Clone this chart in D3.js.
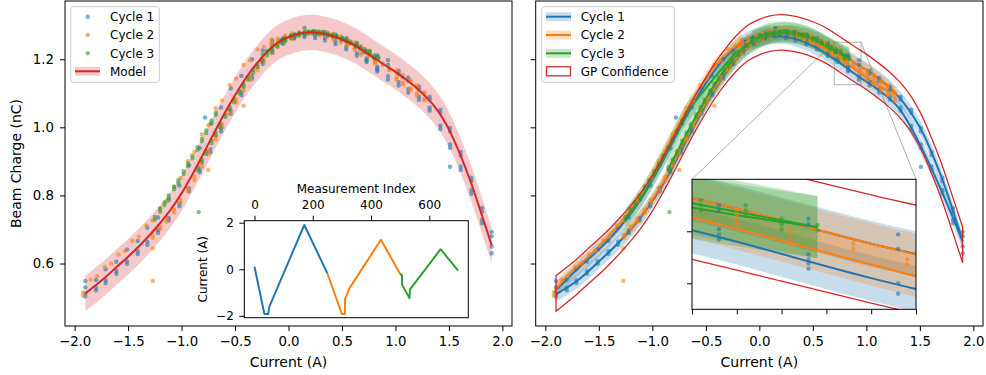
<!DOCTYPE html>
<html>
<head>
<meta charset="utf-8">
<script src="https://cdn.jsdelivr.net/npm/d3@7"></script>
<style>
  body { margin: 0; background: #fff; }
  svg { display: block; font-family: "DejaVu Sans", sans-serif; }
</style>
</head>
<body>
<div id="chart"></div>
<script>
// ---------- data ----------
const xTicks = [-2, -1.5, -1, -0.5, 0, 0.5, 1, 1.5, 2];
const yTicks = [0.6, 0.8, 1.0, 1.2];
const indexTicks = [0, 200, 400, 600];
const indexCurrentTicks = [-2, 0, 2];
const zoomXTicks = [0.70, 0.75, 0.80, 0.85, 0.90, 0.95];
const zoomYTicks = [1.15, 1.20];
const zoomCurrent = [0.70, 0.95];
const zoomCharge = [1.125, 1.25];

const cycleNames = ["Cycle 1", "Cycle 2", "Cycle 3"];

// model fit (mean and confidence edges)
const modelCurrent = [-1.9,-1.8,-1.7,-1.6,-1.5,-1.4,-1.3,-1.2,-1.1,-1.0,-0.9,-0.8,-0.7,-0.6,-0.5,-0.4,-0.3,-0.2,-0.1,0,
  0.1,0.2,0.3,0.4,0.5,0.6,0.7,0.8,0.9,1.0,1.1,1.2,1.3,1.4,1.5,1.6,1.7,1.8,1.9];
const modelCharge = [0.512,0.537,0.563,0.592,0.620,0.650,0.683,0.719,0.759,0.806,0.861,0.920,0.981,1.040,1.094,1.144,1.186,1.222,1.249,1.265,
  1.275,1.279,1.276,1.269,1.258,1.244,1.225,1.204,1.183,1.163,1.140,1.115,1.085,1.047,0.994,0.924,0.843,0.750,0.654];
const modelUpper = [0.564,0.589,0.615,0.644,0.672,0.702,0.735,0.771,0.811,0.858,0.913,0.972,1.033,1.092,1.146,1.196,1.238,1.274,1.301,1.317,
  1.327,1.331,1.328,1.321,1.310,1.296,1.277,1.256,1.235,1.215,1.192,1.167,1.137,1.099,1.046,0.976,0.895,0.802,0.706];
const modelLower = [0.460,0.485,0.511,0.540,0.568,0.598,0.631,0.667,0.707,0.754,0.809,0.868,0.929,0.988,1.042,1.092,1.134,1.170,1.197,1.213,
  1.223,1.227,1.224,1.217,1.206,1.192,1.173,1.152,1.131,1.111,1.088,1.063,1.033,0.995,0.942,0.872,0.791,0.698,0.602];

// measured charge: [current, charge, charge, ...] per set point
const cycle1Charge = [
  [0.05,1.272],[-0.05,1.262],[-0.15,1.255],[-0.24,1.226],[-0.34,1.200],[-0.44,1.151],[-0.54,1.114],[-0.63,1.058],[-0.73,1.010],
  [-0.78,1.029],[-0.83,0.939],[-0.93,0.889],[-1.02,0.829],[-1.12,0.786],[-1.22,0.735],[-1.32,0.705],[-1.41,0.666],[-1.51,0.641],
  [-1.61,0.605],[-1.71,0.583],[-1.80,0.552],[-1.90,0.549,0.530],
  [-1.90,0.503,0.512],[-1.80,0.521,0.529],[-1.71,0.543,0.551],[-1.61,0.570,0.578],[-1.51,0.599,0.607],[-1.41,0.628,0.636],
  [-1.32,0.655,0.664],[-1.22,0.690,0.698],[-1.12,0.726,0.734],[-1.02,0.768,0.777],[-0.93,0.812,0.821],[-0.83,0.868,0.877],
  [-0.73,0.927,0.936],[-0.63,0.988,0.997],[-0.54,1.040,1.049],[-0.44,1.094,1.103],[-0.34,1.143,1.152],[-0.24,1.186,1.194],
  [-0.15,1.218,1.226],[-0.05,1.245,1.252],[0.05,1.261,1.268],[0.15,1.272,1.279,1.292],[0.25,1.276,1.282],[0.34,1.274,1.280],
  [0.44,1.267,1.273],[0.54,1.256,1.262],[0.64,1.242,1.248],[0.73,1.225,1.220],[0.83,1.212,1.207],[0.93,1.197,1.183],
  [1.03,1.166,1.157],[1.12,1.146,1.137],[1.22,1.120,1.111],[1.32,1.090,1.082],[1.42,1.052,1.043],[1.51,0.998,0.988,0.884],
  [1.61,0.928,0.918],[1.71,0.852,0.842],[1.81,0.763,0.752],[1.90,0.693,0.680],
  [1.90,0.650,0.630],[1.81,0.728,0.718],[1.71,0.815,0.805],[1.61,0.885,0.875],[1.51,0.950,0.940],[1.42,1.005,0.995],
  [1.32,1.058,1.049],[1.22,1.090,1.081],[1.12,1.112,1.102],[1.03,1.133,1.123],[0.93,1.150,1.140],[0.83,1.178,1.173,1.169,1.164],
  [0.73,1.202,1.197,1.192],[0.64,1.218,1.210],[0.54,1.237,1.229],[0.44,1.252,1.244],[0.34,1.263,1.255],[0.25,1.270,1.262],
  [0.15,1.273,1.265],[0.05,1.270,1.262],[-0.05,1.260,1.252],[-0.15,1.245,1.237]
];
const cycle2Charge = [
  [-0.16,1.258],[-0.23,1.237],[-0.29,1.229],[-0.36,1.196],[-0.42,1.183,1.063],[-0.49,1.143],[-0.55,1.124],[-0.62,1.079],
  [-0.68,1.056],[-0.75,1.006,0.875],[-0.81,0.980],[-0.88,0.928],[-0.94,0.901],[-1.01,0.851],[-1.07,0.825],[-1.14,0.783],
  [-1.20,0.763],[-1.27,0.726,0.645,0.549],[-1.33,0.712],[-1.40,0.679],[-1.46,0.667],[-1.53,0.637],[-1.59,0.627],[-1.66,0.600],
  [-1.72,0.590],[-1.79,0.563],[-1.85,0.553],[-1.92,0.515,0.505],
  [-1.27,0.676,0.684],[-1.20,0.701,0.709],[-1.14,0.723,0.731],[-1.07,0.750,0.758],[-1.01,0.778,0.787],[-0.94,0.812,0.821],
  [-0.88,0.845,0.854],[-0.81,0.885,0.895],[-0.75,0.921,0.931],[-0.68,0.964,0.974],[-0.62,1.000,1.010],[-0.55,1.040,1.050],
  [-0.49,1.073,1.083],[-0.42,1.109,1.119],[-0.36,1.139,1.149],[-0.29,1.169,1.177],[-0.23,1.193,1.201],[-0.16,1.218,1.226],
  [-0.10,1.235,1.242],[-0.03,1.251,1.257],[0.03,1.260,1.267],[0.10,1.268,1.274],[0.16,1.273,1.279],[0.23,1.276,1.282],
  [0.29,1.275,1.281],[0.36,1.272,1.278],[0.42,1.268,1.274],[0.49,1.261,1.267],[0.55,1.253,1.259],[0.62,1.243,1.249],
  [0.68,1.232,1.238],[0.75,1.221,1.216],[0.81,1.202,1.197],[0.88,1.188],[0.94,1.173],[1.01,1.166,1.160],[1.07,1.154,1.148],
  [1.14,1.139,1.133],[1.20,1.124,1.118],[1.27,1.103,1.097],
  [1.27,1.085,1.079],[1.20,1.100,1.094],[1.14,1.115,1.109],[1.07,1.132,1.126],[1.01,1.146,1.140],[0.94,1.168],[0.88,1.183],
  [0.81,1.192,1.187],[0.75,1.212,1.207],[0.68,1.220,1.214],[0.62,1.233,1.227],[0.55,1.246,1.240],[0.49,1.255,1.249],
  [0.42,1.264,1.258],[0.36,1.271,1.265],[0.29,1.277,1.271],[0.23,1.280,1.274],[0.16,1.282,1.276],[0.10,1.280,1.274],
  [0.03,1.276,1.270],[-0.03,1.270,1.264],[-0.10,1.260,1.254],[-0.16,1.249,1.243]
];
const cycle3Charge = [
  [-0.20,1.225],[-0.24,1.215],[-0.68,1.044,1.036],[-0.72,1.020,1.012],[-0.77,0.991,0.983],[-0.81,0.967,0.959],[-0.85,0.942,0.934],
  [-0.84,0.751],[-0.90,0.917,0.909],[-0.94,0.894,0.886],[-0.98,0.871,0.863],[-1.03,0.845,0.837],[-1.07,0.826,0.818],
  [-1.12,0.800,0.792],[-1.16,0.780,0.772],[-1.20,0.760,0.752],[-1.25,0.737,0.729],
  [-0.85,0.875,0.883],[-0.81,0.898,0.906],[-0.77,0.922,0.930],[-0.72,0.953,0.961],[-0.68,0.977,0.985],[-0.64,1.001,1.009],
  [-0.59,1.030,1.038],[-0.55,1.052,1.060],[-0.51,1.074,1.082],[-0.46,1.100,1.108],[-0.42,1.120,1.128],[-0.38,1.140,1.148],
  [-0.33,1.161,1.169],[-0.29,1.178,1.186],[-0.25,1.193,1.201],[-0.20,1.211,1.219],[-0.16,1.224,1.231],[-0.11,1.238,1.244],
  [-0.07,1.248,1.254],[-0.03,1.254,1.260],[0.02,1.262,1.268],[0.06,1.266,1.272],[0.10,1.270,1.276],[0.15,1.273,1.279],
  [0.19,1.275,1.281],[0.23,1.276,1.282],[0.28,1.275,1.281],[0.32,1.274,1.280],[0.37,1.270,1.276],[0.41,1.267,1.273],
  [0.45,1.263,1.269],[0.50,1.257,1.263],[0.54,1.252,1.258],[0.58,1.246,1.252],[0.63,1.238,1.244],[0.67,1.231,1.237],
  [0.71,1.230,1.225],[0.76,1.225,1.220],[0.80,1.212,1.207],[0.84,1.206,1.201],
  [0.80,1.202],[0.76,1.215],[0.71,1.220],[0.67,1.232],[0.63,1.239],[0.58,1.248],[0.54,1.254],[0.50,1.260],[0.45,1.266],
  [0.41,1.270],[0.37,1.273],[0.32,1.277],[0.28,1.279],[0.23,1.281],[0.19,1.281],[0.15,1.279],[0.10,1.277],[0.06,1.273],
  [0.02,1.269],[-0.03,1.262],[-0.07,1.256]
];

// GP mean per sweep, in measurement order: [current, charge]
const cycle1Mean = [
  [[0.10,1.278],[-0.10,1.260],[-0.30,1.212],[-0.50,1.129],[-0.70,1.022],[-0.90,0.902],[-1.10,0.792],[-1.30,0.708],[-1.50,0.641],[-1.70,0.584],[-1.90,0.522]],
  [[-1.90,0.510],[-1.70,0.550],[-1.50,0.606],[-1.30,0.666],[-1.10,0.739],[-0.90,0.833],[-0.70,0.950],[-0.50,1.067],[-0.30,1.165],[-0.10,1.236],
   [0.10,1.270],[0.30,1.278],[0.50,1.263],[0.70,1.232],[0.90,1.188],[1.10,1.148],[1.30,1.090],[1.50,1.000],[1.70,0.855],[1.90,0.665]],
  [[1.90,0.665],[1.70,0.815],[1.50,0.950],[1.30,1.058],[1.10,1.113],[0.90,1.155],[0.70,1.201],[0.50,1.239],[0.30,1.263],[0.10,1.267],[-0.15,1.241]]
];
const cycle2Mean = [
  [[-0.16,1.255],[-0.40,1.186],[-0.60,1.094],[-0.80,0.981],[-1.00,0.861],[-1.20,0.759],[-1.40,0.683],[-1.60,0.620],[-1.80,0.563],[-1.92,0.515]],
  [[-1.27,0.680],[-1.10,0.743],[-0.90,0.839],[-0.70,0.957],[-0.50,1.072],[-0.30,1.169],[-0.10,1.238],[0.10,1.271],[0.30,1.278],[0.50,1.263],
   [0.70,1.232],[0.90,1.188],[1.10,1.146],[1.27,1.098]],
  [[1.27,1.098],[1.10,1.124],[0.90,1.168],[0.70,1.213],[0.50,1.251],[0.30,1.273],[0.10,1.277],[-0.20,1.236]]
];
const cycle3Mean = [
  [[-0.22,1.220],[-0.68,1.040],[-0.80,0.969],[-0.95,0.879],[-1.10,0.796],[-1.25,0.733]],
  [[-0.86,0.873],[-0.70,0.969],[-0.50,1.083],[-0.30,1.178],[-0.10,1.244],[0.10,1.273],[0.30,1.277],[0.50,1.260],[0.70,1.227],[0.84,1.204]],
  [[0.84,1.204],[0.70,1.223],[0.50,1.260],[0.30,1.279],[0.10,1.277],[-0.07,1.256]]
];
const cycleBandHalfWidth = [0.022, 0.020, 0.030];

// current set point vs measurement index: [index, current]
const cycle1Index = [[0,0.11],[34,-1.92],[47,-1.92],[51,-1.6],[171,1.9],[250,-0.17]];
const cycle2Index = [[250,-0.17],[300,-1.92],[310,-1.92],[311,-1.27],[326,-0.82],[434,1.27],[500,-0.2]];
const cycle3Index = [[500,-0.2],[506,-0.25],[507,-0.67],[532,-1.24],[534,-0.86],[639,0.86],[699,-0.06]];

// ---------- layout ----------
const colors = ["#1f77b4", "#ff7f0e", "#2ca02c"];
const red = "#d62728";
const font = "DejaVu Sans";

const toPoints = rows => rows.flatMap(([c, ...qs]) => qs.map(q => [c, q]));
const cycles = [
  { name: cycleNames[0], color: colors[0], points: toPoints(cycle1Charge), sweeps: cycle1Mean, band: cycleBandHalfWidth[0], index: cycle1Index },
  { name: cycleNames[1], color: colors[1], points: toPoints(cycle2Charge), sweeps: cycle2Mean, band: cycleBandHalfWidth[1], index: cycle2Index },
  { name: cycleNames[2], color: colors[2], points: toPoints(cycle3Charge), sweeps: cycle3Mean, band: cycleBandHalfWidth[2], index: cycle3Index }
];
const modelRows = modelCurrent.map((c, i) => ({ c: c, m: modelCharge[i], lo: modelLower[i], hi: modelUpper[i] }));

const svg = d3.select("#chart").append("svg")
  .attr("width", 986)
  .attr("height", 375);

const boxL = { x0: 65, x1: 512, y0: 1, y1: 326 };
const boxR = { x0: 535.7, x1: 983, y0: 1, y1: 326 };
const boxIdx = { x0: 244.3, x1: 468.3, y0: 220.7, y1: 317.7 };
const boxZ = { x0: 692, x1: 916, y0: 179.3, y1: 309.3 };

const xLeft = d3.scaleLinear().domain([-2.09, 2.09]).range([boxL.x0, boxL.x1]);
const xRight = d3.scaleLinear().domain([-2.09, 2.09]).range([boxR.x0, boxR.x1]);
const yMain = d3.scaleLinear().domain([0.4165, 1.371]).range([boxL.y1, boxL.y0]);
const xIdx = d3.scaleLinear().domain([-35, 734]).range([boxIdx.x0, boxIdx.x1]);
const yIdx = d3.scaleLinear().domain([-2.08, 2.085]).range([boxIdx.y1, boxIdx.y0]);
const xZoom = d3.scaleLinear().domain(zoomCurrent).range([boxZ.x0, boxZ.x1]);
const yZoom = d3.scaleLinear().domain(zoomCharge).range([boxZ.y1, boxZ.y0]);

const defs = svg.append("defs");
function addClip(id, b) {
  defs.append("clipPath").attr("id", id).append("rect")
    .attr("x", b.x0).attr("y", b.y0).attr("width", b.x1 - b.x0).attr("height", b.y1 - b.y0);
}
addClip("clipL", boxL);
addClip("clipR", boxR);
addClip("clipIdx", boxIdx);
addClip("clipZ", boxZ);

function frame(b) {
  svg.append("rect")
    .attr("x", b.x0).attr("y", b.y0).attr("width", b.x1 - b.x0).attr("height", b.y1 - b.y0)
    .style("fill", "none").style("stroke", "#000").style("stroke-width", 1);
}

function styleAxis(g, size) {
  g.attr("font-family", font).attr("font-size", size);
  g.select(".domain").remove();
  g.selectAll(".tick line").style("stroke", "#000").style("stroke-width", 1);
  g.selectAll(".tick text").style("fill", "#000");
}

function drawScatter(g, x, y) {
  cycles.forEach(c => {
    g.append("g").selectAll("circle").data(c.points).enter()
      .append("circle")
      .attr("cx", d => x(d[0]))
      .attr("cy", d => y(d[1]))
      .attr("r", 2.2)
      .style("fill", c.color)
      .style("opacity", 0.6);
  });
}

function drawFits(g, x, y) {
  cycles.forEach(c => {
    const area = d3.area()
      .x(d => x(d[0]))
      .y0(d => y(d[1] - c.band))
      .y1(d => y(d[1] + c.band))
      .curve(d3.curveCatmullRom);
    c.sweeps.forEach(s => {
      g.append("path").datum(s).attr("d", area)
        .style("fill", c.color).style("opacity", 0.25);
    });
  });
  const line = d3.line().x(d => x(d[0])).y(d => y(d[1])).curve(d3.curveCatmullRom);
  cycles.forEach(c => {
    c.sweeps.forEach(s => {
      g.append("path").datum(s).attr("d", line)
        .style("fill", "none").style("stroke", c.color)
        .style("stroke-width", 2).style("stroke-linejoin", "round");
    });
  });
}

function drawGpOutline(g, x, y) {
  const area = d3.area().x(d => x(d.c)).y0(d => y(d.lo)).y1(d => y(d.hi)).curve(d3.curveCatmullRom);
  g.append("path").datum(modelRows).attr("d", area)
    .style("fill", "none").style("stroke", red).style("stroke-width", 1.3);
}

// ---------- left panel ----------
const gL = svg.append("g").attr("clip-path", "url(#clipL)");
gL.append("path").datum(modelRows)
  .attr("d", d3.area().x(d => xLeft(d.c)).y0(d => yMain(d.lo)).y1(d => yMain(d.hi)).curve(d3.curveCatmullRom))
  .style("fill", red).style("opacity", 0.25);
drawScatter(gL, xLeft, yMain);
gL.append("path").datum(modelRows)
  .attr("d", d3.line().x(d => xLeft(d.c)).y(d => yMain(d.m)).curve(d3.curveCatmullRom))
  .style("fill", "none").style("stroke", red).style("stroke-width", 2);

// inset: current vs measurement index
svg.append("rect")
  .attr("x", boxIdx.x0).attr("y", boxIdx.y0)
  .attr("width", boxIdx.x1 - boxIdx.x0).attr("height", boxIdx.y1 - boxIdx.y0)
  .style("fill", "#fff");
const gIdx = svg.append("g").attr("clip-path", "url(#clipIdx)");
const idxLine = d3.line().x(d => xIdx(d[0])).y(d => yIdx(d[1]));
cycles.forEach(c => {
  gIdx.append("path").datum(c.index).attr("d", idxLine)
    .style("fill", "none").style("stroke", c.color)
    .style("stroke-width", 2).style("stroke-linejoin", "round");
});
frame(boxIdx);
styleAxis(svg.append("g")
  .attr("transform", "translate(0," + boxIdx.y0 + ")")
  .call(d3.axisTop(xIdx).tickValues(indexTicks).tickSize(5).tickPadding(7).tickFormat(d3.format("d"))), 12);
styleAxis(svg.append("g")
  .attr("transform", "translate(" + boxIdx.x0 + ",0)")
  .call(d3.axisLeft(yIdx).tickValues(indexCurrentTicks).tickSize(5).tickPadding(5.5).tickFormat(d3.format("d"))), 12);
svg.append("text")
  .attr("x", (boxIdx.x0 + boxIdx.x1) / 2).attr("y", 192.5)
  .attr("text-anchor", "middle").attr("font-family", font).attr("font-size", 12)
  .text("Measurement Index");
svg.append("text")
  .attr("transform", "translate(206.5," + (boxIdx.y0 + boxIdx.y1) / 2 + ") rotate(-90)")
  .attr("text-anchor", "middle").attr("font-family", font).attr("font-size", 12)
  .text("Current (A)");

frame(boxL);
styleAxis(svg.append("g")
  .attr("transform", "translate(0," + boxL.y1 + ")")
  .call(d3.axisBottom(xLeft).tickValues(xTicks).tickSize(5).tickPadding(5.5).tickFormat(d3.format(".1f"))), 13.3);
styleAxis(svg.append("g")
  .attr("transform", "translate(" + boxL.x0 + ",0)")
  .call(d3.axisLeft(yMain).tickValues(yTicks).tickSize(5).tickPadding(6).tickFormat(d3.format(".1f"))), 13.3);
svg.append("text")
  .attr("x", (boxL.x0 + boxL.x1) / 2).attr("y", 366.5)
  .attr("text-anchor", "middle").attr("font-family", font).attr("font-size", 14)
  .text("Current (A)");
svg.append("text")
  .attr("transform", "translate(21," + (boxL.y0 + boxL.y1) / 2 + ") rotate(-90)")
  .attr("text-anchor", "middle").attr("font-family", font).attr("font-size", 14)
  .text("Beam Charge (nC)");

// ---------- right panel ----------
const gR = svg.append("g").attr("clip-path", "url(#clipR)");
// zoom marker and connectors sit behind the data
const zx0 = xRight(zoomCurrent[0]), zx1 = xRight(zoomCurrent[1]);
const zy0 = yMain(zoomCharge[1]), zy1 = yMain(zoomCharge[0]);
gR.append("rect")
  .attr("x", zx0).attr("y", zy0).attr("width", zx1 - zx0).attr("height", zy1 - zy0)
  .style("fill", "none").style("stroke", "#b0b0b0").style("stroke-width", 1);
gR.append("line").attr("x1", zx0).attr("y1", zy0).attr("x2", boxZ.x0).attr("y2", boxZ.y0)
  .style("stroke", "#b0b0b0").style("stroke-width", 1);
gR.append("line").attr("x1", zx1).attr("y1", zy0).attr("x2", boxZ.x1).attr("y2", boxZ.y0)
  .style("stroke", "#b0b0b0").style("stroke-width", 1);
drawFits(gR, xRight, yMain);
drawScatter(gR, xRight, yMain);
drawGpOutline(gR, xRight, yMain);

// zoomed inset
svg.append("rect")
  .attr("x", boxZ.x0).attr("y", boxZ.y0)
  .attr("width", boxZ.x1 - boxZ.x0).attr("height", boxZ.y1 - boxZ.y0)
  .style("fill", "#fff");
const gZ = svg.append("g").attr("clip-path", "url(#clipZ)");
drawFits(gZ, xZoom, yZoom);
drawScatter(gZ, xZoom, yZoom);
drawGpOutline(gZ, xZoom, yZoom);
frame(boxZ);
styleAxis(svg.append("g")
  .attr("transform", "translate(0," + boxZ.y1 + ")")
  .call(d3.axisBottom(xZoom).tickValues(zoomXTicks).tickSize(5).tickFormat("")), 12);
styleAxis(svg.append("g")
  .attr("transform", "translate(" + boxZ.x0 + ",0)")
  .call(d3.axisLeft(yZoom).tickValues(zoomYTicks).tickSize(5).tickFormat("")), 12);

frame(boxR);
styleAxis(svg.append("g")
  .attr("transform", "translate(0," + boxR.y1 + ")")
  .call(d3.axisBottom(xRight).tickValues(xTicks).tickSize(5).tickPadding(5.5).tickFormat(d3.format(".1f"))), 13.3);
styleAxis(svg.append("g")
  .attr("transform", "translate(" + boxR.x0 + ",0)")
  .call(d3.axisLeft(yMain).tickValues(yTicks).tickSize(5).tickFormat("")), 13.3);
svg.append("text")
  .attr("x", (boxR.x0 + boxR.x1) / 2).attr("y", 366.5)
  .attr("text-anchor", "middle").attr("font-family", font).attr("font-size", 14)
  .text("Current (A)");

// ---------- legends ----------
const rowY = [16.7, 35, 53.3, 71.3];

function legendFrame(x, w) {
  svg.append("rect")
    .attr("x", x).attr("y", 6.7).attr("width", w).attr("height", 75.6)
    .attr("rx", 2.5)
    .style("fill", "#fff").style("fill-opacity", 0.8)
    .style("stroke", "#cccccc").style("stroke-width", 1);
}
function legendText(x, y, s) {
  svg.append("text")
    .attr("x", x).attr("y", y + 4.3)
    .attr("font-family", font).attr("font-size", 12)
    .text(s);
}

// left legend
legendFrame(70.7, 88.6);
cycles.forEach((c, i) => {
  svg.append("circle").attr("cx", 87.7).attr("cy", rowY[i]).attr("r", 2.2)
    .style("fill", c.color).style("opacity", 0.6);
  legendText(110, rowY[i], c.name);
});
svg.append("rect").attr("x", 75).attr("y", rowY[3] - 4.5).attr("width", 25).attr("height", 9)
  .style("fill", red).style("opacity", 0.25);
svg.append("line").attr("x1", 75).attr("x2", 100).attr("y1", rowY[3]).attr("y2", rowY[3])
  .style("stroke", red).style("stroke-width", 2);
legendText(110, rowY[3], "Model");

// right legend
legendFrame(541.7, 132.6);
cycles.forEach((c, i) => {
  svg.append("rect").attr("x", 546).attr("y", rowY[i] - 4.5).attr("width", 25).attr("height", 9)
    .style("fill", c.color).style("opacity", 0.25);
  svg.append("line").attr("x1", 546).attr("x2", 571).attr("y1", rowY[i]).attr("y2", rowY[i])
    .style("stroke", c.color).style("stroke-width", 2);
  legendText(580.7, rowY[i], c.name);
});
svg.append("rect").attr("x", 546.5).attr("y", rowY[3] - 4.5).attr("width", 24).attr("height", 9)
  .style("fill", "#fff").style("stroke", red).style("stroke-width", 1.3);
legendText(580.7, rowY[3], "GP Confidence");
</script>
</body>
</html>
